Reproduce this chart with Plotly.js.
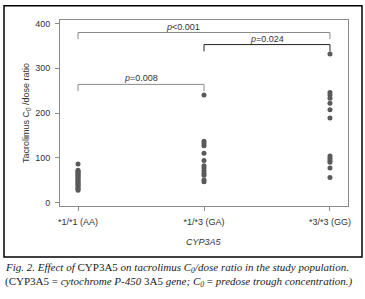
<!DOCTYPE html>
<html><head><meta charset="utf-8">
<script src="https://cdn.plot.ly/plotly-3.0.1.min.js"></script>
<style>html,body{margin:0;padding:0;background:#fff}#c{width:365px;height:299px}</style>
</head><body><div id="c"></div>
<script>
// Data
const categories = ['*1/*1 (AA)', '*1/*3 (GA)', '*3/*3 (GG)'];
const valuesAA = [86, 72, 70, 67, 65, 62, 60, 58, 55, 53, 50, 48, 45, 43, 40, 38, 35, 32, 30, 27];
const valuesGA = [240, 137, 132, 127, 110, 94, 82, 77, 71, 65, 61, 50, 46];
const valuesGG = [332, 246, 240, 233, 222, 207, 189, 104, 99, 94, 90, 77, 56];
const bracketFrom = [0, 1, 0];
const bracketTo = [2, 2, 1];
const bracketY = [380, 353, 264];
const bracketLabels = ['<i>p</i><0.001', '<i>p</i>=0.024', '<i>p</i>=0.008'];
const bracketLabelX = [0.83, 1.5, 0.5];
const bracketColors = ['#8a8a8a', '#222222', '#8a8a8a'];
const bracketDrop = 15;

const groups = [valuesAA, valuesGA, valuesGG];
const xs = [], ys = [];
groups.forEach((g, i) => g.forEach(v => { xs.push(categories[i]); ys.push(v); }));

const trace = {
  type: 'scatter', mode: 'markers', x: xs, y: ys,
  marker: {size: 5, color: '#5a5a5a'}, hoverinfo: 'none', cliponaxis: false
};

const shapes = [];
const annotations = [];
bracketY.forEach((y, i) => {
  const a = bracketFrom[i], b = bracketTo[i];
  shapes.push({type: 'path', xref: 'x', yref: 'y',
    path: `M ${a} ${y - bracketDrop} L ${a} ${y} L ${b} ${y} L ${b} ${y - bracketDrop}`,
    line: {color: bracketColors[i], width: 1}});
  annotations.push({xref: 'x', yref: 'y', x: bracketLabelX[i], y: y, yanchor: 'bottom',
    text: bracketLabels[i], showarrow: false, font: {size: 9, color: '#333'}, yshift: -1});
});
// outer frame
shapes.push({type: 'rect', xref: 'paper', yref: 'paper', x0: -0.1944, x1: 1.0486, y0: -0.2746, y1: 1.077,
  line: {color: '#000', width: 1.5}});

// axis titles
annotations.push({xref: 'paper', yref: 'paper', x: -0.118, y: 0.5, textangle: -90, showarrow: false,
  xanchor: 'center', yanchor: 'middle', text: 'Tacrolimus C<sub>0</sub> /dose ratio', font: {size: 9, color: '#333'}});
annotations.push({xref: 'paper', yref: 'paper', x: 0.5, y: -0.194, showarrow: false,
  xanchor: 'center', yanchor: 'middle', text: '<i>CYP3A5</i>', font: {size: 9, color: '#333'}});

const cap = {family: 'Liberation Serif, serif', size: 11, color: '#222'};
annotations.push({xref: 'paper', yref: 'paper', x: -0.198, y: -0.334, xanchor: 'left', yanchor: 'middle', showarrow: false,
  text: '<i>Fig. 2. Effect of </i>CYP3A5<i> on tacrolimus C<sub>0</sub>/dose ratio in the study population.</i>', font: cap});
annotations.push({xref: 'paper', yref: 'paper', x: -0.198, y: -0.409, xanchor: 'left', yanchor: 'middle', showarrow: false,
  text: '(CYP3A5 = <i>cytochrome P-450 </i>3A5<i> gene; C<sub>0</sub></i> = <i>predose trough concentration.)</i>', font: cap});

const layout = {
  width: 365, height: 299,
  margin: {l: 60, r: 17, t: 20, b: 93},
  paper_bgcolor: '#fff', plot_bgcolor: '#fff',
  showlegend: false,
  font: {family: 'Liberation Sans, Arial, sans-serif', size: 9, color: '#333'},
  xaxis: {type: 'category', categoryarray: categories, range: [-0.143, 2.143],
    showline: true, mirror: true, linecolor: '#8a8a8a', linewidth: 1,
    ticks: 'outside', ticklen: 4, tickcolor: '#8a8a8a', showgrid: false, zeroline: false,
    ticklabelstandoff: 3},
  yaxis: {range: [-8, 408], tickvals: [0, 100, 200, 300, 400],
    showline: true, mirror: true, linecolor: '#8a8a8a', linewidth: 1,
    ticks: 'outside', ticklen: 4, tickcolor: '#8a8a8a', showgrid: false, zeroline: false,
    ticklabelstandoff: 3},
  shapes: shapes,
  annotations: annotations
};
Plotly.newPlot('c', [trace], layout, {displayModeBar: false, staticPlot: true});
</script></body></html>
